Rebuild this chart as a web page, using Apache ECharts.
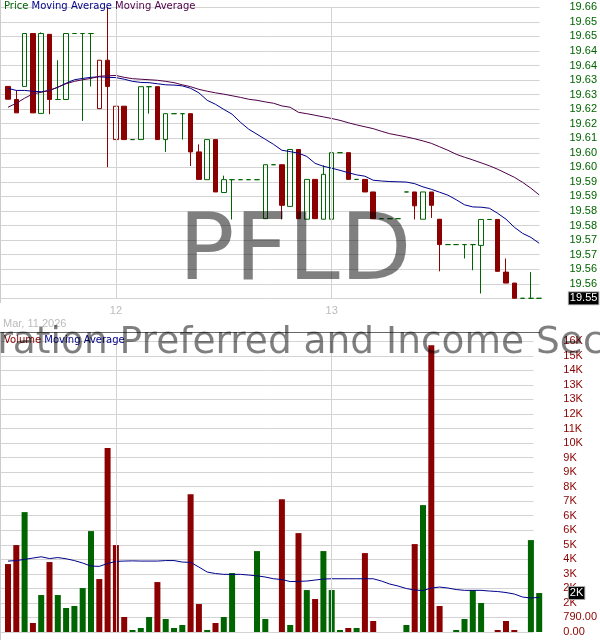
<!DOCTYPE html>
<html><head><meta charset="utf-8">
<script src="https://cdn.jsdelivr.net/npm/echarts@6/dist/echarts.min.js"></script>
<style>html,body{margin:0;padding:0;background:#fff}#c{width:600px;height:640px}</style>
</head><body><div id="c"></div><script>
// ---- data ----
const sessionTimes = ["09:30","09:45","10:00","10:15","10:30","10:45","11:00","11:15","11:30","11:45","12:00","12:15","12:30","12:45","13:00","13:15","13:30","13:45","14:00","14:15","14:30","14:45","15:00","15:15","15:30","15:45"];
const day11Times = sessionTimes.slice(13);
const categories = day11Times.map(t => "2026-03-11 " + t)
  .concat(sessionTimes.map(t => "2026-03-12 " + t))
  .concat(sessionTimes.map(t => "2026-03-13 " + t));
const dayStarts = ["2026-03-12 09:30", "2026-03-13 09:30"];
const dateLabel = "Mar, 11 2026";

const opens = [19.6293,19.6244,19.6293,19.6491,19.6192,19.6488,19.6244,19.6244,19.6491,19.6491,
19.6491,19.6210,19.6391,19.6094,19.6219,19.6094,19.6094,19.6292,19.6292,19.6094,
19.6191,19.6191,19.6191,19.6048,19.5944,19.6094,19.5896,19.5944,19.5944,19.5944,
19.5944,19.5798,19.6000,19.6000,19.5844,19.6057,19.5796,19.5945,19.5796,19.5796,
19.6045,19.6045,19.5945,19.5945,19.5898,19.5798,19.5798,19.5798,19.5898,19.5898,
19.5796,19.5898,19.5796,19.5701,19.5701,19.5701,19.5701,19.5698,19.5795,19.5795,
19.5598,19.5557,19.5500,19.5500,19.5500];
const closes = [19.6245,19.6194,19.6491,19.6194,19.6491,19.6244,19.6244,19.6491,19.6491,19.6491,
19.6491,19.6391,19.6293,19.6219,19.6094,19.6094,19.6292,19.6292,19.6094,19.6191,
19.6191,19.6191,19.6048,19.5945,19.6094,19.5898,19.5944,19.5944,19.5944,19.5944,
19.5944,19.6000,19.6000,19.5848,19.6057,19.5798,19.5945,19.5798,19.5964,19.6045,
19.6045,19.5945,19.5945,19.5898,19.5798,19.5798,19.5798,19.5798,19.5898,19.5846,
19.5898,19.5848,19.5701,19.5701,19.5701,19.5701,19.5701,19.5795,19.5795,19.5601,
19.5557,19.5500,19.5500,19.5500,19.5500];
const lows = [19.6245,19.6194,19.6293,19.6194,19.6192,19.6189,19.6244,19.6244,19.6491,19.6164,
19.6293,19.6210,19.5991,19.6094,19.6094,19.6094,19.6094,19.6191,19.6094,19.6048,
19.6191,19.6094,19.5995,19.5945,19.5944,19.5898,19.5896,19.5795,19.5944,19.5944,
19.5944,19.5798,19.6000,19.5795,19.5844,19.5798,19.5796,19.5798,19.5796,19.5796,
19.6045,19.5945,19.5945,19.5898,19.5798,19.5798,19.5798,19.5798,19.5898,19.5795,
19.5796,19.5801,19.5601,19.5701,19.5701,19.5649,19.5605,19.5518,19.5795,19.5601,
19.5557,19.5500,19.5500,19.5500,19.5500];
const highs = [19.6293,19.6278,19.6491,19.6491,19.6495,19.6488,19.6391,19.6491,19.6491,19.6491,
19.6491,19.6391,19.6590,19.6219,19.6219,19.6094,19.6292,19.6292,19.6292,19.6191,
19.6191,19.6191,19.6191,19.6076,19.6094,19.6094,19.5959,19.5944,19.5944,19.5944,
19.5944,19.6000,19.6000,19.6000,19.6057,19.6057,19.5945,19.5945,19.5998,19.6045,
19.6045,19.6045,19.5945,19.5945,19.5898,19.5798,19.5798,19.5798,19.5898,19.5898,
19.5898,19.5898,19.5796,19.5701,19.5701,19.5701,19.5701,19.5795,19.5795,19.5795,
19.5649,19.5557,19.5500,19.5598,19.5500];
const priceMaShort = [19.6286,19.6278,19.6278,19.6275,19.6273,19.6278,19.6290,19.6305,19.6318,19.6323,
19.6327,19.6329,19.6327,19.6326,19.6320,19.6312,19.6308,19.6307,19.6303,19.6299,
19.6298,19.6295,19.6286,19.6269,19.6241,19.6226,19.6207,19.6189,19.6159,19.6133,
19.6114,19.6095,19.6076,19.6054,19.6049,19.6043,19.6031,19.6005,19.5994,19.5987,
19.5979,19.5970,19.5962,19.5957,19.5942,19.5939,19.5937,19.5936,19.5935,19.5929,
19.5917,19.5908,19.5897,19.5886,19.5869,19.5850,19.5842,19.5841,19.5837,19.5818,
19.5796,19.5766,19.5743,19.5728,19.5706];
const priceMaLong = [19.6215,19.6230,19.6249,19.6265,19.6271,19.6278,19.6290,19.6303,19.6312,19.6318,
19.6323,19.6331,19.6333,19.6334,19.6327,19.6322,19.6320,19.6318,19.6316,19.6312,
19.6307,19.6299,19.6292,19.6282,19.6275,19.6269,19.6264,19.6258,19.6252,19.6245,
19.6241,19.6235,19.6230,19.6220,19.6215,19.6196,19.6191,19.6185,19.6179,19.6173,
19.6166,19.6157,19.6149,19.6142,19.6135,19.6125,19.6116,19.6110,19.6104,19.6097,
19.6089,19.6080,19.6067,19.6054,19.6039,19.6028,19.6018,19.6007,19.5996,19.5983,
19.5968,19.5953,19.5934,19.5912,19.5887];
const volumes = [3692,4724,6516,489,2009,3801,2009,1303,1412,2389,
5484,2878,10000,4724,814,109,217,814,2715,706,
217,380,7493,1520,109,489,814,3204,0,0,
4398,706,0,7221,380,5375,2280,1792,4398,2280,
109,217,217,4289,597,0,0,0,380,4778,
6896,15583,1412,0,109,706,2280,1575,0,109,
597,109,0,4995,2118];
const volumeMa = [3855,3882,3947,4018,4089,3991,4045,3980,3882,3747,
3584,3567,3720,3839,3855,3866,3855,3855,3855,3882,
3882,3801,3785,3530,3258,3177,3133,3133,3133,3095,
3052,2987,2894,2851,2742,2753,2769,2824,2878,2894,
2894,2894,2894,2894,2894,2769,2606,2498,2362,2281,
2253,2389,2443,2389,2308,2264,2264,2264,2226,2199,
2145,2063,1900,1846,1884];
const priceTitle = ["Price", "Moving Average", "Moving Average"];
const volumeTitle = ["Volume", "Moving Average"];
const watermark = "PFLD";
const companyName = "AAM Low Duration Preferred and Income Securities ETF";

// ---- styles ----
const GREEN = '#006400', RED = '#8B0000', NAVY = '#00008B', PURPLE = '#4F0048';
const GRID_C = '#d3d3d3';
const AXF = '"Liberation Sans", Arial, sans-serif';
const LGF = '"DejaVu Sans", Verdana, sans-serif';

const n = closes.length;
const isUp = i => i === 0 ? closes[i] >= opens[i] : closes[i] >= closes[i - 1] - 1e-6;
const candleData = closes.map((c, i) => {
  const col = isUp(i) ? GREEN : RED;
  const hollow = c > opens[i];
  const fill = hollow ? 'rgba(255,255,255,0)' : col;
  return { value: [opens[i], c, lows[i], highs[i]],
    itemStyle: { color: fill, color0: fill, borderColor: col, borderColor0: col } };
});
const volData = volumes.map((v, i) => ({ value: v, itemStyle: { color: isUp(i) ? GREEN : RED } }));

const pStep = 19.55 / 3590;
const pMin = 19.55, pMax = pStep * 3610;
const vStep = 790, vMax = 790 * 20;
const fmtVol = v => v < 1000 ? v.toFixed(2) : Math.round(v / 1000) + 'K';

const PT = 7.3, PH = 291, VT = 341.3, VH = 290.7;
const DL = 3.85, DW = 539.5;

const dayLines = {
  silent: true, symbol: 'none', animation: false,
  label: { show: false },
  lineStyle: { color: GRID_C, width: 1, type: 'solid' },
  data: dayStarts.map(d => ({ xAxis: d }))
};
const hlLabel = (txt) => ({
  show: true, position: 'end', distance: 25.5, formatter: () => txt,
  backgroundColor: '#000', color: '#fff', borderColor: '#aaa', borderWidth: 1,
  padding: [1, 1, 0, 1], fontSize: 11, fontFamily: AXF
});
const hlLine = (val, txt) => ({
  silent: true, symbol: 'none', animation: false,
  lineStyle: { color: 'rgba(0,0,0,0)', width: 1, type: 'solid' },
  label: hlLabel(txt),
  data: [{ yAxis: val }]
});

const chart = echarts.init(document.getElementById('c'), null, { renderer: 'canvas' });
chart.setOption({
  animation: false,
  backgroundColor: '#fff',
  grid: [
    { left: 0, width: 540, top: PT, height: PH },
    { left: DL, width: DW, top: PT, height: PH },
    { left: 0, width: 540, top: VT, height: VH },
    { left: DL, width: DW, top: VT, height: VH }
  ],
  xAxis: [
    { gridIndex: 0, type: 'value', min: 0, max: 1, show: false },
    { gridIndex: 1, type: 'category', data: categories, boundaryGap: true,
      axisLine: { show: false }, axisTick: { show: false }, splitLine: { show: false },
      axisLabel: { show: true, interval: (idx, val) => dayStarts.includes(val),
        formatter: v => String(parseInt(v.slice(8, 10), 10)),
        color: '#bbb', fontSize: 11, fontFamily: AXF, margin: 7 } },
    { gridIndex: 2, type: 'value', min: 0, max: 1, show: false },
    { gridIndex: 3, type: 'category', data: categories, boundaryGap: true,
      axisLine: { show: false }, axisTick: { show: false }, splitLine: { show: false },
      axisLabel: { show: false } }
  ],
  yAxis: [
    { gridIndex: 0, type: 'value', position: 'right', min: pMin, max: pMax, interval: pStep,
      axisLine: { show: false }, axisTick: { show: false },
      splitLine: { show: true, lineStyle: { color: GRID_C, width: 1 } },
      axisLabel: { color: GREEN, fontSize: 11, fontFamily: AXF, margin: 30, align: 'left',
        formatter: v => v.toFixed(2) } },
    { gridIndex: 1, type: 'value', min: pMin, max: pMax, show: false },
    { gridIndex: 2, type: 'value', position: 'right', min: 0, max: vMax, interval: vStep,
      axisLine: { show: false }, axisTick: { show: false },
      splitLine: { show: true, lineStyle: { color: GRID_C, width: 1 } },
      axisLabel: { color: RED, fontSize: 11, fontFamily: AXF, margin: 30, align: 'left',
        formatter: v => fmtVol(v) } },
    { gridIndex: 3, type: 'value', min: 0, max: vMax, show: false }
  ],
  series: [
    { type: 'candlestick', xAxisIndex: 1, yAxisIndex: 1, data: candleData, barWidth: 5,
      itemStyle: { borderWidth: 1 }, emphasis: { disabled: true }, markLine: dayLines, z: 3 },
    { type: 'line', xAxisIndex: 1, yAxisIndex: 1, data: priceMaShort, symbol: 'none', showSymbol: false,
      lineStyle: { color: NAVY, width: 1 }, itemStyle: { color: NAVY }, z: 4 },
    { type: 'line', xAxisIndex: 1, yAxisIndex: 1, data: priceMaLong, symbol: 'none', showSymbol: false,
      lineStyle: { color: PURPLE, width: 1 }, itemStyle: { color: PURPLE }, z: 4 },
    { type: 'bar', xAxisIndex: 3, yAxisIndex: 3, data: volData, barWidth: 6,
      emphasis: { disabled: true }, markLine: dayLines, z: 3 },
    { type: 'line', xAxisIndex: 3, yAxisIndex: 3, data: volumeMa, symbol: 'none', showSymbol: false,
      lineStyle: { color: NAVY, width: 1 }, itemStyle: { color: NAVY }, z: 4 },
    { type: 'line', xAxisIndex: 1, yAxisIndex: 1, data: [], clip: false, z: 20,
      markLine: hlLine(closes[n - 1], closes[n - 1].toFixed(2)) },
    { type: 'line', xAxisIndex: 3, yAxisIndex: 3, data: [], clip: false, z: 20,
      markLine: hlLine(volumes[n - 1], fmtVol(volumes[n - 1])) }
  ],
  graphic: [
    { type: 'line', z: 1, silent: true, shape: { x1: 0.5, y1: 0, x2: 0.5, y2: 303 }, style: { stroke: '#ccc', lineWidth: 1 } },
    { type: 'line', z: 1, silent: true, shape: { x1: 0.5, y1: 332, x2: 0.5, y2: 640 }, style: { stroke: '#ccc', lineWidth: 1 } },
    { type: 'line', z: 5, silent: true, shape: { x1: 0, y1: 332.5, x2: 540, y2: 332.5 }, style: { stroke: '#666', lineWidth: 1 } },
    { type: 'text', z: 6, silent: true, x: 4, y: 1,
      style: { text: '{g|' + priceTitle[0] + '} {b|' + priceTitle[1] + '} {p|' + priceTitle[2] + '}',
        font: '10px ' + LGF, fill: GREEN,
        rich: { g: { fill: GREEN, color: GREEN, fontSize: 10, fontFamily: LGF },
                b: { fill: NAVY, color: NAVY, fontSize: 10, fontFamily: LGF },
                p: { fill: PURPLE, color: PURPLE, fontSize: 10, fontFamily: LGF } } } },
    { type: 'text', z: 6, silent: true, x: 3, y: 318,
      style: { text: dateLabel, font: '11px ' + AXF, fill: '#bbb' } },
    { type: 'text', z: 6, silent: true, x: 4, y: 335,
      style: { text: '{r|' + volumeTitle[0] + '} {b|' + volumeTitle[1] + '}',
        font: '10px ' + LGF, fill: RED,
        rich: { r: { fill: RED, color: RED, fontSize: 10, fontFamily: LGF },
                b: { fill: NAVY, color: NAVY, fontSize: 10, fontFamily: LGF } } } },
    { type: 'text', z: 50, silent: true, x: 295, y: 255,
      style: { text: watermark, font: '93px "DejaVu Sans"', fill: 'rgba(0,0,0,0.5)',
        align: 'center', verticalAlign: 'middle', textAlign: 'center', textVerticalAlign: 'middle' } },
    { type: 'text', z: 50, silent: true, x: -237.6, y: 343.5,
      style: { text: companyName, font: '37.5px "DejaVu Sans"', fill: 'rgba(0,0,0,0.5)',
        align: 'left', verticalAlign: 'middle', textAlign: 'left', textVerticalAlign: 'middle' } }
  ]
});
</script></body></html>
